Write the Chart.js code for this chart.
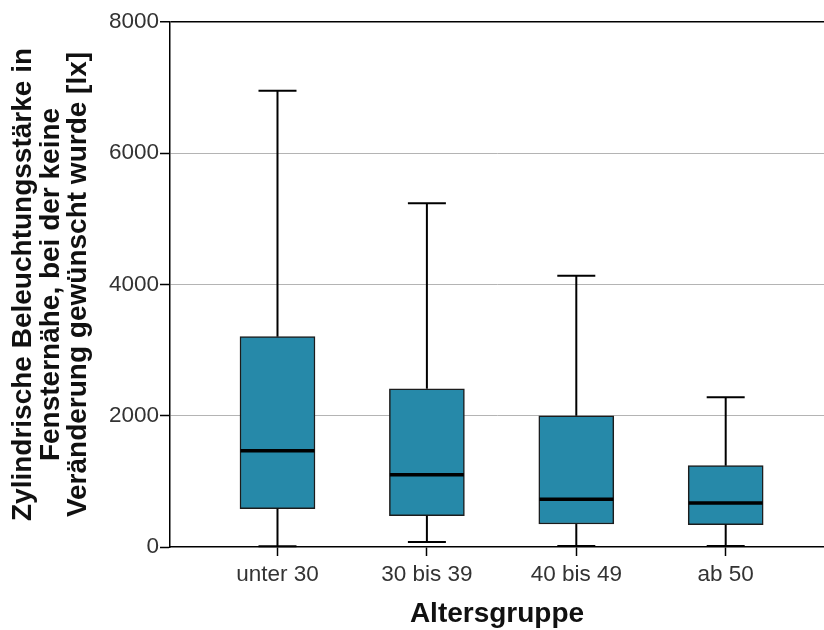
<!DOCTYPE html>
<html>
<head>
<meta charset="utf-8">
<script src="https://cdn.jsdelivr.net/npm/chart.js@4/dist/chart.umd.min.js"></script>
<style>
  html, body { margin: 0; padding: 0; background: #fff; }
  #wrap { width: 824px; height: 630px; }
</style>
</head>
<body>
<div id="wrap"><canvas id="chartCanvas"></canvas></div>
<script>
// --- data (lx) ---
const groups = ["unter 30", "30 bis 39", "40 bis 49", "ab 50"];
const whiskerLow = [10, 76, 15, 15];
const q1 = [584, 477, 350, 340];
const median = [1467, 1102, 727, 670];
const q3 = [3205, 2412, 2000, 1239];
const whiskerHigh = [6953, 5238, 4134, 2281];
const yTicks = [0, 2000, 4000, 6000, 8000];

const yTitle = [
  "Zylindrische Beleuchtungsstärke in",
  "Fensternähe, bei der keine",
  "Veränderung gewünscht wurde [lx]"
];
const xTitle = "Altersgruppe";

const boxColor = "#2689a9";

// whiskers, caps and medians drawn through the chart's scales
const whiskerPlugin = {
  id: "whiskers",
  afterDatasetsDraw(chart) {
    const { ctx, scales: { x, y } } = chart;
    const seg = (x1, y1, x2, y2) => {
      ctx.beginPath();
      ctx.moveTo(x1, y1);
      ctx.lineTo(x2, y2);
      ctx.stroke();
    };
    ctx.save();
    ctx.strokeStyle = "#000";
    groups.forEach((g, i) => {
      const cx = x.getPixelForValue(i + 1);
      const capHalf = 19;
      const boxHalf = 37;
      ctx.lineWidth = 2;
      seg(cx, y.getPixelForValue(q3[i]), cx, y.getPixelForValue(whiskerHigh[i]));
      seg(cx, y.getPixelForValue(q1[i]), cx, y.getPixelForValue(whiskerLow[i]));
      seg(cx - capHalf, y.getPixelForValue(whiskerHigh[i]), cx + capHalf, y.getPixelForValue(whiskerHigh[i]));
      seg(cx - capHalf, y.getPixelForValue(whiskerLow[i]), cx + capHalf, y.getPixelForValue(whiskerLow[i]));
      ctx.lineWidth = 3.5;
      seg(cx - boxHalf, y.getPixelForValue(median[i]), cx + boxHalf, y.getPixelForValue(median[i]));
    });
    ctx.restore();
  }
};

const canvas = document.getElementById("chartCanvas");

new Chart(canvas, {
  type: "bar",
  data: {
    datasets: [{
      label: "Box",
      data: groups.map((g, i) => ({ x: i + 1, y: [q1[i], q3[i]] })),
      backgroundColor: boxColor,
      borderColor: "#1c1c1c",
      borderWidth: 1.5,
      borderSkipped: false,
      barThickness: 75
    }]
  },
  options: {
    responsive: true,
    maintainAspectRatio: false,
    animation: false,
    layout: { padding: { top: 22, right: 0, left: 0, bottom: 0 } },
    plugins: {
      legend: { display: false },
      tooltip: { enabled: false }
    },
    scales: {
      x: {
        type: "linear",
        offset: false,
        min: 0.2805,
        max: 4.658,
        afterBuildTicks: s => { s.ticks = groups.map((g, i) => ({ value: i + 1 })); },
        afterFit: s => { s.height = 83; },
        ticks: {
          callback: v => groups[v - 1],
          color: "#333",
          font: { family: "Liberation Sans", size: 22.5 },
          padding: 5,
          maxRotation: 0,
          autoSkip: false
        },
        grid: { offset: false, drawOnChartArea: false, drawTicks: true, tickLength: 9, tickColor: "#000", tickWidth: 1.5 },
        border: { color: "#000", width: 1.5 },
        title: {
          display: true,
          text: xTitle,
          color: "#111",
          font: { family: "Liberation Sans", size: 28, weight: "bold", lineHeight: 1 },
          padding: { top: 0, bottom: 2 }
        }
      },
      y: {
        min: 0,
        max: 8000,
        afterBuildTicks: s => { s.ticks = yTicks.map(v => ({ value: v })); },
        afterFit: s => { s.width = 170; },
        ticks: {
          callback: v => String(v),
          color: "#333",
          font: { family: "Liberation Sans", size: 22.5 },
          padding: 1
        },
        grid: {
          color: c => c.tick.value === 8000 ? "#000" : (c.tick.value === 0 ? "rgba(0,0,0,0)" : "#b4b4b4"),
          lineWidth: c => c.tick.value === 8000 ? 1.5 : 1,
          tickLength: 10,
          tickColor: "#000",
          tickWidth: 1.5
        },
        border: { color: "#000", width: 1.5 },
        title: {
          display: true,
          text: yTitle,
          color: "#111",
          font: { family: "Liberation Sans", size: 28, weight: "bold", lineHeight: 0.98 },
          padding: { top: 10, bottom: 0 }
        }
      }
    }
  },
  plugins: [whiskerPlugin]
});
</script>
</body>
</html>
